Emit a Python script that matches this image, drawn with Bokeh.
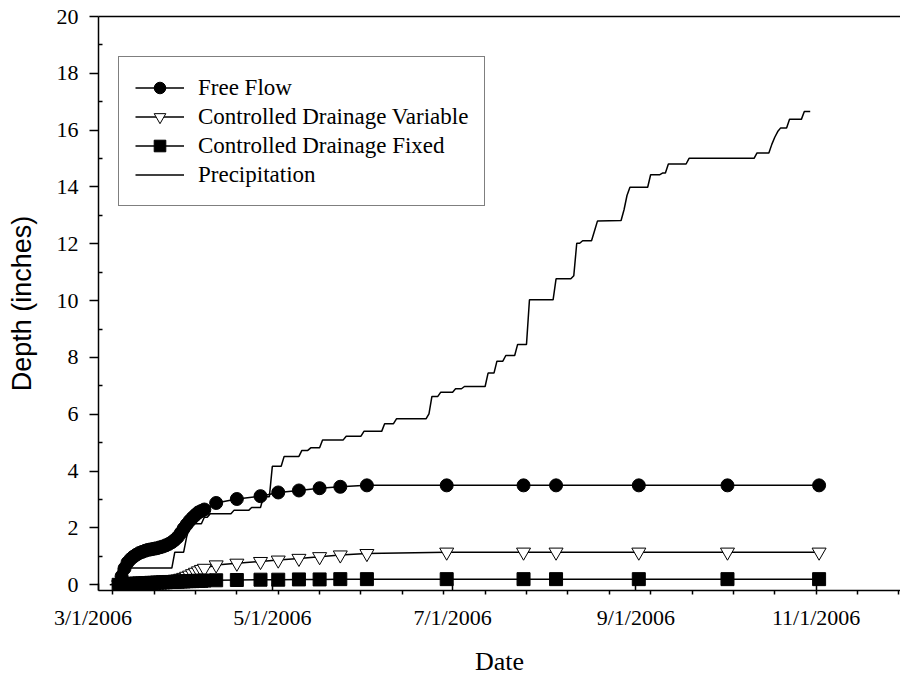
import pandas as pd
from bokeh.plotting import figure
from bokeh.models import (FixedTicker, LinearAxis, Range1d, Legend, LegendItem,
                          CustomJSTickFormatter)
from bokeh.embed import file_html
from bokeh.resources import INLINE

# ---------------- data ----------------
# daily readings, early season (Mar 10 - Apr 8)
dense_dates = pd.date_range("2006-03-10", "2006-04-08", freq="D")
free_flow_dense = [0.02, 0.3, 0.58, 0.78, 0.9, 0.99, 1.06, 1.12, 1.16, 1.2, 1.23, 1.25,
                   1.27, 1.29, 1.32, 1.35, 1.39, 1.44, 1.5, 1.58, 1.68, 1.82,
                   1.98, 2.12, 2.25, 2.36, 2.46, 2.55, 2.6, 2.65]
cd_variable_dense = [0.0, 0.02, 0.03, 0.04, 0.05, 0.05, 0.06, 0.06, 0.07, 0.07, 0.08, 0.08,
                     0.09, 0.09, 0.1, 0.11, 0.12, 0.13, 0.15, 0.17, 0.2, 0.23,
                     0.26, 0.3, 0.34, 0.39, 0.44, 0.49, 0.54, 0.58]
cd_fixed_dense = [0.0, 0.01, 0.02, 0.03, 0.03, 0.04, 0.04, 0.05, 0.05, 0.06, 0.06, 0.07,
                  0.07, 0.08, 0.08, 0.09, 0.09, 0.1, 0.1, 0.11, 0.11, 0.12,
                  0.12, 0.13, 0.13, 0.13, 0.14, 0.14, 0.14, 0.15]

# later, sparse readings
sparse_dates = ["2006-04-12", "2006-04-19", "2006-04-27", "2006-05-03", "2006-05-10",
                "2006-05-17", "2006-05-24", "2006-06-02", "2006-06-29", "2006-07-25",
                "2006-08-05", "2006-09-02", "2006-10-02", "2006-11-02"]
free_flow_sparse = [2.88, 3.02, 3.12, 3.25, 3.32, 3.40, 3.45, 3.5, 3.5, 3.5, 3.5, 3.5, 3.5, 3.5]
cd_variable_sparse = [0.7, 0.76, 0.82, 0.87, 0.93, 0.99, 1.05, 1.1, 1.15, 1.15, 1.15, 1.15, 1.15, 1.15]
cd_fixed_sparse = [0.16, 0.17, 0.18, 0.18, 0.19, 0.19, 0.2, 0.2, 0.2, 0.2, 0.2, 0.2, 0.2, 0.2]

# cumulative precipitation
precip_dates = ["2006-03-07", "2006-03-09", "2006-03-10", "2006-03-28", "2006-03-29", "2006-04-01",
                "2006-04-02", "2006-04-03", "2006-04-04", "2006-04-07", "2006-04-08", "2006-04-09",
                "2006-04-10", "2006-04-17", "2006-04-18", "2006-04-23", "2006-04-24", "2006-04-27",
                "2006-04-28", "2006-04-30", "2006-05-01", "2006-05-04", "2006-05-05", "2006-05-10",
                "2006-05-11", "2006-05-13", "2006-05-14", "2006-05-17", "2006-05-18", "2006-05-25",
                "2006-05-26", "2006-05-31", "2006-06-01", "2006-06-07", "2006-06-08", "2006-06-11",
                "2006-06-12", "2006-06-22", "2006-06-23", "2006-06-24", "2006-06-26", "2006-06-27",
                "2006-07-01", "2006-07-02", "2006-07-04", "2006-07-05", "2006-07-12", "2006-07-13",
                "2006-07-15", "2006-07-16", "2006-07-18", "2006-07-19", "2006-07-22", "2006-07-23",
                "2006-07-26", "2006-07-27", "2006-08-04", "2006-08-05", "2006-08-10", "2006-08-11",
                "2006-08-12", "2006-08-13", "2006-08-14", "2006-08-17", "2006-08-18", "2006-08-19",
                "2006-08-27", "2006-08-28", "2006-08-29", "2006-08-30", "2006-09-05", "2006-09-06",
                "2006-09-09", "2006-09-10", "2006-09-11", "2006-09-12", "2006-09-18", "2006-09-19",
                "2006-10-11", "2006-10-12", "2006-10-16", "2006-10-17", "2006-10-18", "2006-10-19",
                "2006-10-20", "2006-10-22", "2006-10-23", "2006-10-27", "2006-10-28", "2006-10-30"]
precip_values = [0.0, 0.02, 0.59, 0.59, 1.15, 1.15,
                 1.68, 2.03, 2.15, 2.15, 2.38, 2.38,
                 2.5, 2.5, 2.62, 2.62, 2.72, 2.72,
                 3.1, 3.1, 4.17, 4.17, 4.52, 4.52,
                 4.73, 4.73, 4.82, 4.82, 5.1, 5.1,
                 5.23, 5.23, 5.4, 5.4, 5.67, 5.67,
                 5.84, 5.84, 6.02, 6.63, 6.63, 6.78,
                 6.78, 6.9, 6.9, 6.98, 6.98, 7.45,
                 7.45, 7.87, 7.87, 8.07, 8.07, 8.46,
                 8.46, 10.03, 10.03, 10.77, 10.77, 10.88,
                 12.02, 12.02, 12.11, 12.11, 12.45, 12.8,
                 12.82, 13.2, 13.7, 13.99, 13.99, 14.43,
                 14.43, 14.49, 14.49, 14.81, 14.81, 15.01,
                 15.01, 15.2, 15.2, 15.5, 15.75, 15.95,
                 16.08, 16.08, 16.38, 16.38, 16.66, 16.66]

x_label_dates = ["2006-03-01", "2006-05-01", "2006-07-01", "2006-09-01", "2006-11-01"]
x_minor_start, x_minor_end = "2006-03-08", "2006-11-29"
y_ticks = [0, 2, 4, 6, 8, 10, 12, 14, 16, 18, 20]
y_minor = [1, 3, 5, 7, 9, 11, 13, 15, 17, 19]

# ---------------- helpers ----------------
def ms(d):
    return pd.Timestamp(d).value / 1e6

def mdy(d):
    t = pd.Timestamp(d)
    return f"{t.month}/{t.day}/{t.year}"

x_start = pd.Timestamp("2006-03-03 04:30")
x_end = pd.Timestamp("2006-11-29 13:00")
y_start, y_end = -0.2, 20

SERIF = "Liberation Serif"
SANS = "Liberation Sans"
TICK_PX = "22px"

p = figure(width=900, height=680, x_axis_type="datetime",
           x_range=Range1d(x_start, x_end), y_range=Range1d(y_start, y_end),
           output_backend="svg", toolbar_location=None,
           min_border_left=98, min_border_right=0, min_border_top=16, min_border_bottom=90)
p.xgrid.visible = False
p.ygrid.visible = False
p.outline_line_color = None
p.background_fill_color = "white"

sx = list(dense_dates) + [pd.Timestamp(d) for d in sparse_dates]
ff = free_flow_dense + free_flow_sparse
cdv = cd_variable_dense + cd_variable_sparse
cdf = cd_fixed_dense + cd_fixed_sparse
pdts = [pd.Timestamp(d) for d in precip_dates]

r_pr = p.line(pdts, precip_values, line_color="black", line_width=1.5)
r_ffl = p.line(sx, ff, line_color="black", line_width=1.5)
r_ffm = p.scatter(sx, ff, marker="circle", size=13, fill_color="black", line_color="black")
r_cvl = p.line(sx, cdv, line_color="black", line_width=1.5)
r_cvm = p.scatter(sx, cdv, marker="inverted_triangle", size=14, fill_color="white",
                  line_color="black", line_width=1)
r_cfl = p.line(sx, cdf, line_color="black", line_width=1.5)
r_cfm = p.scatter(sx, cdf, marker="square", size=13, fill_color="black", line_color="black")

legend = Legend(items=[
    LegendItem(label="Free Flow", renderers=[r_ffl, r_ffm]),
    LegendItem(label="Controlled Drainage Variable", renderers=[r_cvl, r_cvm]),
    LegendItem(label="Controlled Drainage Fixed", renderers=[r_cfl, r_cfm]),
    LegendItem(label="Precipitation", renderers=[r_pr]),
], location=(20, 384))
legend.label_text_font = SERIF
legend.label_text_font_size = "23px"
legend.label_text_color = "black"
legend.glyph_width = 49
legend.glyph_height = 29
legend.label_height = 29
legend.label_standoff = 14
legend.padding = 16
legend.spacing = 0
legend.margin = 0
legend.border_line_color = "black"
legend.border_line_width = 1
legend.background_fill_alpha = 1
p.add_layout(legend)

# x axis: the first label date lies just left of where the axis begins,
# so it is shown at the axis' left end (shifted left with no-break spaces)
edge_ms = ms(x_start) + 1000
in_range = [d for d in x_label_dates if pd.Timestamp(d) >= x_start]
out_range = [d for d in x_label_dates if pd.Timestamp(d) < x_start]
major = [ms(d) for d in in_range] + ([edge_ms] if out_range else [])
minor = pd.date_range(x_minor_start, x_minor_end, freq="14D")
edge_text = (mdy(out_range[-1]) + "\u00a0\u00a0") if out_range else ""
xa = p.xaxis[0]
xa.ticker = FixedTicker(ticks=major, minor_ticks=[ms(d) for d in minor])
xa.formatter = CustomJSTickFormatter(args=dict(edge=edge_ms, edge_text=edge_text), code="""
if (Math.abs(tick - edge) < 2000) { return edge_text; }
const d = new Date(tick);
return (d.getUTCMonth() + 1) + '/' + d.getUTCDate() + '/' + d.getUTCFullYear();
""")
xa.major_tick_in = 7
xa.major_tick_out = 0
xa.minor_tick_in = 0
xa.minor_tick_out = 4
xa.major_label_standoff = 10
xa.major_label_text_font = SERIF
xa.major_label_text_font_size = TICK_PX
xa.major_label_text_color = "black"
xa.axis_line_width = 1.5
xa.major_tick_line_width = 1.5
xa.minor_tick_line_width = 1.5
xa.axis_label = "Date"
xa.axis_label_text_font = SERIF
xa.axis_label_text_font_size = "26px"
xa.axis_label_text_font_style = "normal"
xa.axis_label_text_color = "black"
xa.axis_label_standoff = 14

# y axis
ya = p.yaxis[0]
ya.ticker = FixedTicker(ticks=y_ticks, minor_ticks=y_minor)
ya.major_tick_in = 0
ya.major_tick_out = 9
ya.minor_tick_in = 4
ya.minor_tick_out = 0
ya.major_label_standoff = 11
ya.major_label_text_font = SERIF
ya.major_label_text_font_size = TICK_PX
ya.major_label_text_color = "black"
ya.axis_line_width = 1.5
ya.major_tick_line_width = 1.5
ya.minor_tick_line_width = 1.5
ya.axis_label = "Depth (inches)"
ya.axis_label_text_font = SANS
ya.axis_label_text_font_size = "27px"
ya.axis_label_text_font_style = "normal"
ya.axis_label_text_color = "black"
ya.axis_label_standoff = 17

# top frame line
top = LinearAxis(ticker=FixedTicker(ticks=[]), major_tick_out=0, major_tick_in=0,
                 minor_tick_out=0, minor_tick_in=0, major_label_text_font_size="0px",
                 axis_line_width=1.5)
p.add_layout(top, "above")

open("out.html", "w").write(file_html(p, INLINE))
